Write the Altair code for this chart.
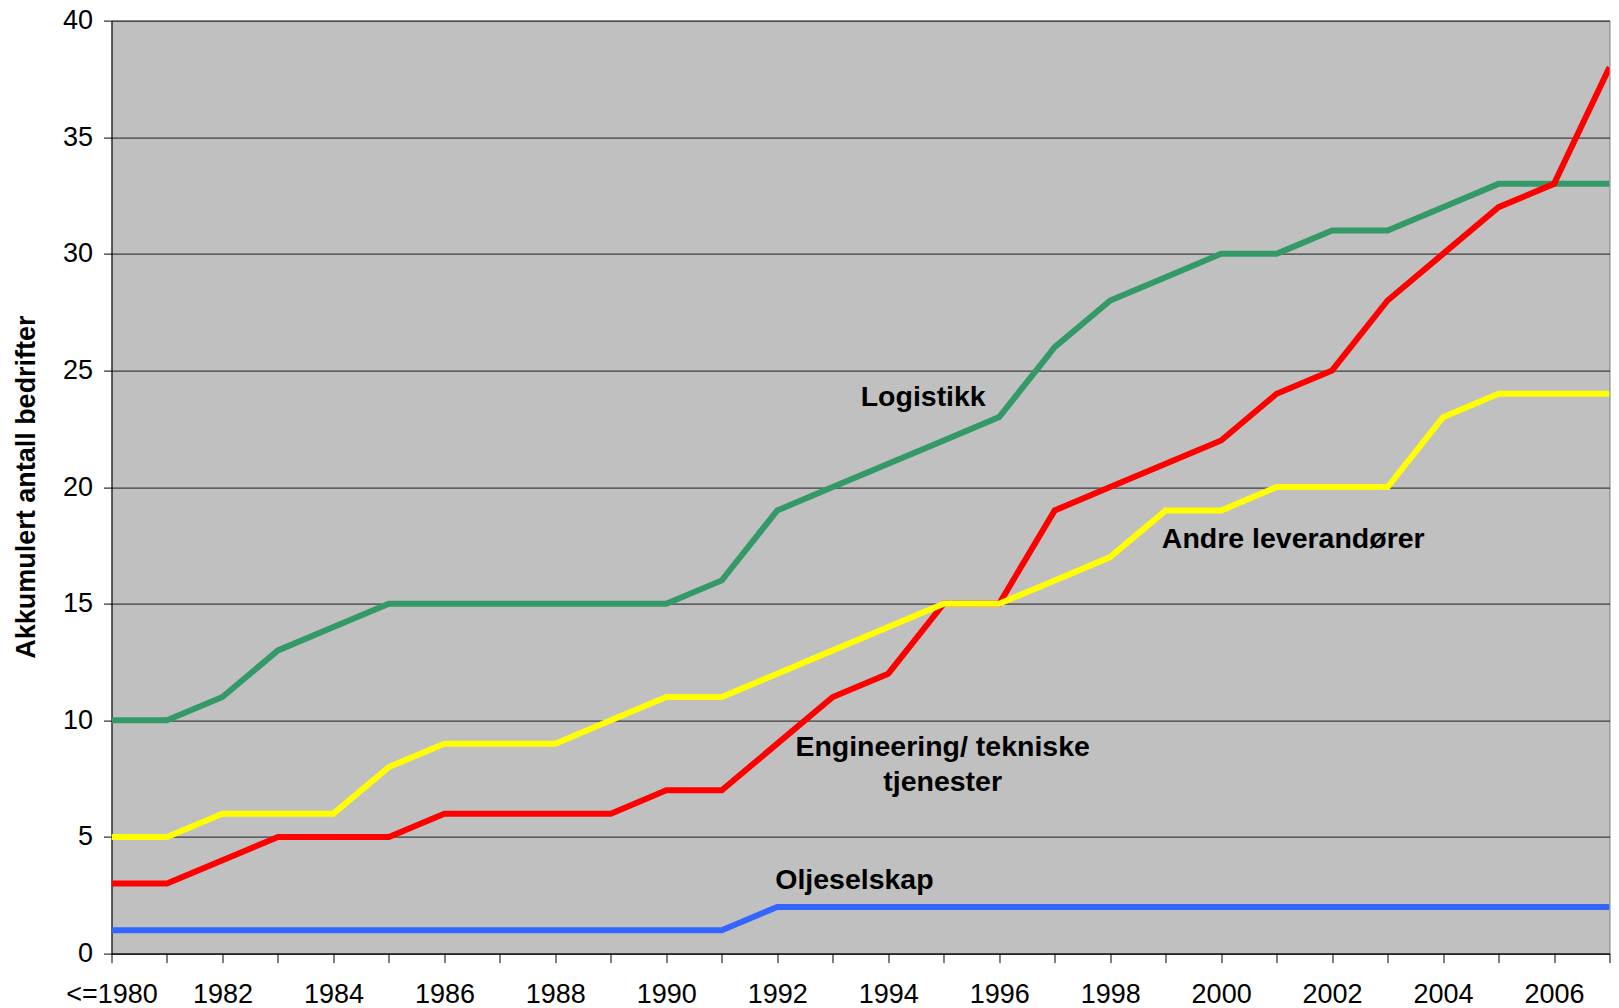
import altair as alt
import pandas as pd

years = list(range(1980, 2008))

logistikk = [10, 10, 11, 13, 14, 15, 15, 15, 15, 15, 15, 16, 19, 20, 21, 22, 23, 26, 28, 29,
             30, 30, 31, 31, 32, 33, 33, 33]
engineering = [3, 3, 4, 5, 5, 5, 6, 6, 6, 6, 7, 7, 9, 11, 12, 15, 15, 19, 20, 21,
               22, 24, 25, 28, 30, 32, 33, 38]
andre = [5, 5, 6, 6, 6, 8, 9, 9, 9, 10, 11, 11, 12, 13, 14, 15, 15, 16, 17, 19,
         19, 20, 20, 20, 23, 24, 24, 24]
olje = [1] * 12 + [2] * 16

series_names = ["Logistikk", "Engineering/ tekniske tjenester", "Andre leverandører", "Oljeselskap"]
series_values = [logistikk, engineering, andre, olje]
series_colors = ["#339966", "#FF0000", "#FFFF00", "#3366FF"]

# annotation anchors (data units)
label_texts = [["Logistikk"], ["Engineering/ tekniske", "tjenester"], ["Andre leverandører"], ["Oljeselskap"]]
label_x = [1994.63, 1994.98, 2001.3, 1993.39]
label_y = [23.86, 8.87, 17.78, 3.15]

FONT = "Liberation Sans"

x_scale = alt.Scale(domain=[1980, 2007], nice=False, zero=False)
y_scale = alt.Scale(domain=[0, 40], nice=False)

x_axis = alt.Axis(
    values=years,
    labelExpr="datum.value == 1980 ? '<=1980' : (datum.value % 2 == 0 ? '' + datum.value : '')",
    grid=False, title=None, domainColor="#000000", domainWidth=1,
    tickColor="#000000", tickSize=9, tickWidth=1,
    labelFont=FONT, labelFontSize=27, labelColor="#000000",
    labelPadding=32, labelBaseline="middle", labelFlush=False, labelOverlap=False,
)
y_axis = alt.Axis(
    values=[0, 5, 10, 15, 20, 25, 30, 35, 40],
    grid=True, gridColor="#000000", gridWidth=1, gridOpacity=0.85,
    domainColor="#000000", domainWidth=1, tickColor="#000000", tickSize=8,
    labelFont=FONT, labelFontSize=27, labelColor="#000000", labelPadding=11,
    labelBaseline="middle",
    title="Akkumulert antall bedrifter", titleFont=FONT, titleFontSize=27,
    titleFontWeight="bold", titleColor="#000000", titleAngle=-90,
    titleX=-85, titleY=466, titleAlign="center", titleBaseline="middle",
)

layers = []
for name, vals, col in zip(series_names, series_values, series_colors):
    df = pd.DataFrame({"year": years, "value": vals, "series": name})
    layers.append(
        alt.Chart(df).mark_line(color=col, strokeWidth=6, strokeJoin="miter", clip=True)
        .encode(
            x=alt.X("year:Q", scale=x_scale, axis=x_axis),
            y=alt.Y("value:Q", scale=y_scale, axis=y_axis),
        )
    )

labels_df = pd.DataFrame({"text": label_texts, "year": label_x, "value": label_y})
text_layer = alt.Chart(labels_df).mark_text(
    font=FONT, fontSize=28.5, fontWeight="bold", color="#000000",
    align="center", baseline="middle", lineHeight=35,
).encode(
    x=alt.X("year:Q", scale=x_scale, axis=x_axis),
    y=alt.Y("value:Q", scale=y_scale, axis=y_axis),
    text="text",
)

chart = alt.layer(*layers, text_layer).properties(
    width=1498, height=933,
    padding={"left": 103.5, "top": 12.6, "right": 1, "bottom": 58},
    autosize=alt.AutoSizeParams(type="none"),
    background="#FFFFFF",
).configure_view(
    fill="#C0C0C0", stroke="#808080", strokeWidth=1,
)

chart.save("out.html", embed_options={"renderer": "svg", "actions": False})
